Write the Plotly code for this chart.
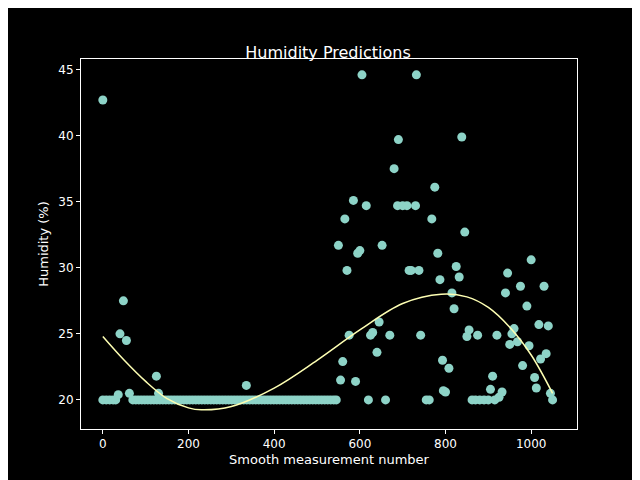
import plotly.graph_objects as go

# scatter points off the 20% floor
odd_x = [0, 36, 40, 48, 55, 62, 125, 130, 335, 550, 555, 560, 565, 570, 575, 585, 590, 595, 600, 605,
         615, 620, 625, 630, 640, 645, 652, 660, 670, 680, 688, 690, 700, 710, 715, 720, 730, 732, 738, 742,
         755, 762, 768, 775, 782, 787, 793, 795, 800, 808, 815, 820, 825, 832, 838, 845, 850, 855, 862, 870,
         875, 880, 890, 900, 905, 910, 915, 920, 925, 932, 940, 945, 950, 955, 960, 968, 975, 980, 990, 995,
         1000, 1008, 1012, 1018, 1022, 1030, 1035, 1040, 1045, 1050]
odd_y = [42.7, 20.4, 25, 27.5, 24.5, 20.5, 21.8, 20.5, 21.1, 31.7, 21.5, 22.9, 33.7, 29.8, 24.9, 35.1, 21.4, 31.1, 31.3, 44.6,
         34.7, 20, 24.9, 25.1, 23.6, 25.9, 31.7, 20, 24.9, 37.5, 34.7, 39.7, 34.7, 34.7, 29.8, 29.8, 34.7, 44.6, 29.8, 24.9,
         20, 20, 33.7, 36.1, 31.1, 29.1, 23, 20.7, 20.6, 22.4, 28.1, 26.9, 30.1, 29.3, 39.9, 32.7, 24.8, 25.3, 20, 20,
         24.9, 20, 20, 20, 20.8, 21.8, 20, 24.9, 20.2, 20.6, 28.1, 29.6, 24.2, 25, 25.4, 24.4, 28.6, 22.6, 27.1, 24.1,
         30.6, 21.7, 20.9, 25.7, 23.1, 28.6, 23.5, 25.6, 20.5, 20]

# points sitting on the 20% floor
floor_x = [0, 8, 16, 24, 30, 70, 77, 84, 91, 98, 105, 112, 119, 126, 133, 140, 147, 154, 161, 168, 175,
           182, 189, 196, 203, 210, 217, 224, 231, 238, 245, 252, 259, 266, 273, 280, 287, 294, 301, 308,
           315, 322, 329, 336, 343, 350, 357, 364, 371, 378, 385, 392, 399, 406, 413, 420, 427, 434, 441,
           448, 455, 462, 469, 476, 483, 490, 497, 504, 511, 518, 525, 532, 539, 545]
floor_y = [20] * len(floor_x)

# fitted trend
fit_x = [0, 50, 100, 150, 200, 230, 300, 400, 500, 600, 700, 790, 850, 900, 950, 1000, 1050]
fit_y = [24.8, 23.0, 21.4, 20.1, 19.4, 19.25, 19.5, 20.9, 23.0, 25.3, 27.3, 28.0, 27.8, 27.0, 25.5, 23.4, 20.5]

fig = go.Figure()
fig.add_trace(go.Scatter(x=floor_x + odd_x, y=floor_y + odd_y, mode="markers",
                         marker=dict(color="#8dd3c7", size=9)))
fig.add_trace(go.Scatter(x=fit_x, y=fit_y, mode="lines", line=dict(color="#feffb3", width=1.5, shape="spline")))

ax = dict(showgrid=False, zeroline=False, showline=True, linecolor="white", mirror=True,
          ticks="outside", tickcolor="white", ticklen=4, color="white", automargin=False,
          tickfont=dict(size=12))
fig.update_layout(
    width=640, height=480, paper_bgcolor="black", plot_bgcolor="black", showlegend=False,
    font=dict(family="DejaVu Sans", color="white", size=12),
    title=dict(text="Humidity Predictions", x=0.5, y=0.92, xanchor="center", font=dict(size=16)),
    margin=dict(l=73, r=71, t=51, b=59),
    xaxis=dict(ax, range=[-51, 1107], tickvals=[0, 200, 400, 600, 800, 1000],
               title=dict(text="Smooth measurement number", standoff=4, font=dict(size=13))),
    yaxis=dict(ax, range=[17.8, 45.8], tickvals=[20, 25, 30, 35, 40, 45],
               title=dict(text="Humidity (%)", standoff=6, font=dict(size=13))),
)
fig.write_html("out.html")
